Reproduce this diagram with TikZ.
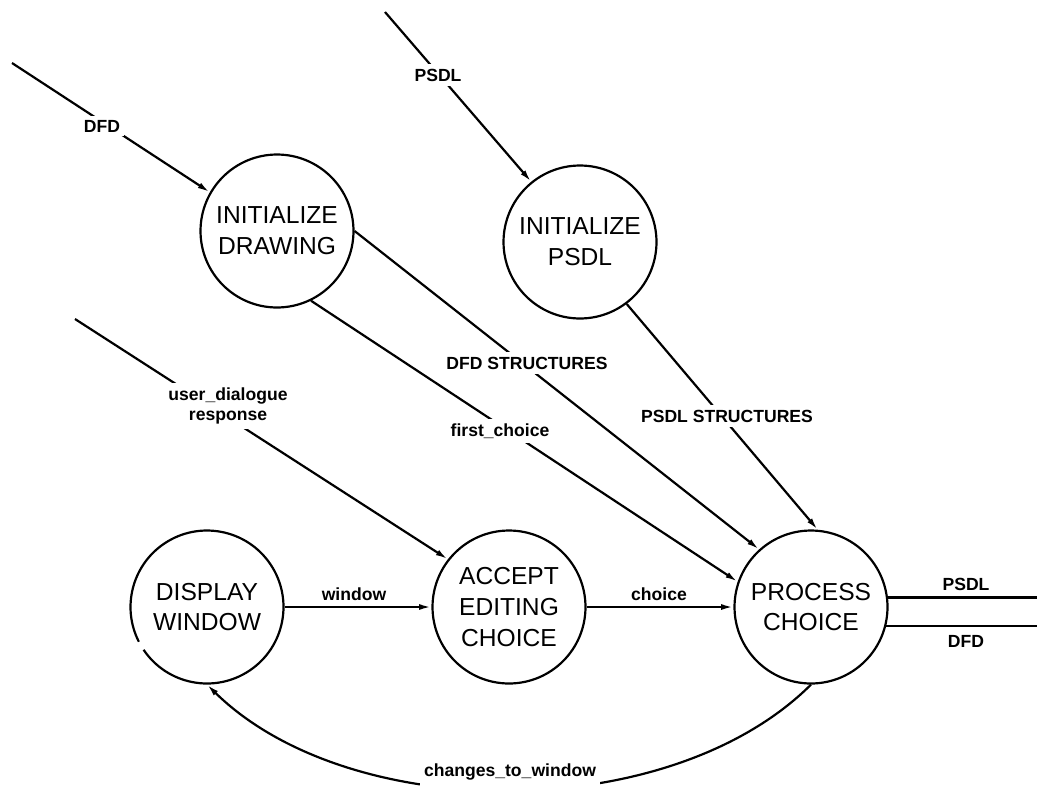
\documentclass[tikz,border=0pt]{standalone}
\usepackage{fontspec}
\setmainfont{Liberation Sans}
\usetikzlibrary{arrows.meta}
\begin{document}
\begin{tikzpicture}[x=0.02cm,y=-0.02cm,
  proc/.style={circle,draw,line width=1.25pt,minimum size=3.06cm,inner sep=0pt,align=center,font=\fontsize{14}{17.5}\selectfont},
  flow/.style={line width=1.25pt,-{Latex[length=7pt,width=3.4pt]}},
  plain/.style={line width=1.25pt},
  lbl/.style={fill=white,inner sep=2.5pt,font=\bfseries\fontsize{10}{11.5}\selectfont,align=center}]
\useasboundingbox (0,0) rectangle (1037,788);
% processes
\node[proc] (idraw) at (277,231) {INITIALIZE\\DRAWING};
\node[proc] (ipsdl) at (580,242) {INITIALIZE\\PSDL};
\node[proc,draw=none] (disp) at (207,607) {DISPLAY\\WINDOW};
\draw[plain] (disp.center) ++(214:1.53cm) arc[start angle=214,end angle=567,radius=1.53cm];
\node[proc] (acc) at (509,607) {ACCEPT\\EDITING\\CHOICE};
\node[proc] (pc) at (811,607) {PROCESS\\CHOICE};
% free ends
\coordinate (sdfd) at (12,63);
\coordinate (spsdl) at (385,12);
\coordinate (suser) at (75,319);
\coordinate (eright) at (1037,610);
% flows
\draw[flow] (sdfd) -- (idraw.150);
\draw[flow] (spsdl) -- (ipsdl.129);
\draw[flow] (idraw.0) -- (pc.132);
\draw[flow] (idraw.-64) -- (pc.161);
\draw[flow] (ipsdl.-53) -- (pc.85);
\draw[flow] (suser) -- (acc.142);
\draw[flow] (disp.east) -- (acc.west);
\draw[flow] (acc.east) -- (pc.west);
\draw[plain] (pc.7) -- (pc.7 -| eright);
\draw[plain] (pc.-14) -- (pc.-14 -| eright);
\draw[flow] (pc.south) .. controls (670,825) and (350,825) .. (disp.south);
% labels
\node[lbl] (l1) at (102,126) {DFD};
\node[lbl] (l2) at (438,75) {PSDL};
\node[lbl] (l3) at (527,363) {DFD STRUCTURES};
\node[lbl] (l4) at (500,431) {first\_choice};
\node[lbl] (l5) at (727,416) {PSDL STRUCTURES};
\node[lbl] (l6) at (228,406) {user\_dialogue\\response};
\node[lbl] (l7) at (354,594) {window};
\node[lbl] (l8) at (659,594) {choice};
\node[lbl] (l9) at (966,584) {PSDL};
\node[lbl] (l10) at (966,641) {DFD};
\node[lbl,minimum height=1cm] (l11) at (510,772) {changes\_to\_window};
\end{tikzpicture}
\end{document}
